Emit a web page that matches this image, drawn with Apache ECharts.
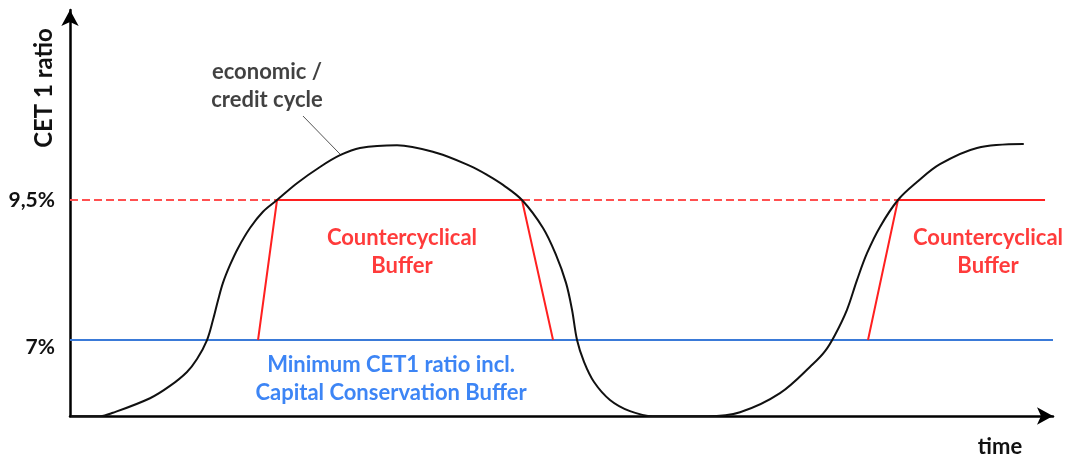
<!DOCTYPE html>
<html>
<head>
<meta charset="utf-8">
<script src="https://cdn.jsdelivr.net/npm/echarts@6/dist/echarts.min.js"></script>
<style>
html,body{margin:0;padding:0;background:#fff;}
#chart{width:1072px;height:457px;}
</style>
</head>
<body>
<div id="chart"></div>
<script>
// ---- data ----
const yTickValues = [7, 9.5];
const yTickLabels = ['7%', '9,5%'];
const cycleTime = [0.20, 3.05, 4.37, 8.14, 10.17, 11.90, 12.92, 13.94, 14.55, 15.06, 15.56, 16.28, 17.09, 18.31, 19.63, 21.06, 23.09, 25.43, 27.47, 29.50, 33.27, 37.33, 40.69, 42.42, 44.05, 45.98, 48.12, 49.44, 50.46, 51.07, 51.58, 52.29, 53.31, 54.93, 56.97, 59.31, 64.80, 68.16, 72.23, 75.58, 76.81, 77.82, 79.04, 80.06, 81.08, 82.40, 84.23, 86.16, 88.50, 92.27, 96.95];
const cycleRatio = [5.64, 5.64, 5.70, 5.96, 6.18, 6.43, 6.66, 7.00, 7.36, 7.71, 8.02, 8.34, 8.64, 9.00, 9.29, 9.50, 9.80, 10.09, 10.30, 10.43, 10.48, 10.34, 10.11, 9.95, 9.77, 9.50, 9.00, 8.52, 8.02, 7.54, 7.00, 6.61, 6.25, 5.93, 5.73, 5.64, 5.64, 5.71, 6.05, 6.57, 6.80, 7.09, 7.54, 8.07, 8.55, 9.02, 9.50, 9.82, 10.14, 10.43, 10.50];
const buffer1Time = [19.13, 21.06, 45.98, 49.14];
const buffer1Ratio = [7, 9.5, 9.5, 7];
const buffer2Time = [81.18, 84.23, 99.19];
const buffer2Ratio = [7, 9.5, 9.5];
const dashedTime = [0, 21.06, null, 45.98, 84.23];
const dashedRatio = [9.5, 9.5, null, 9.5, 9.5];
const minTime = [0, 100];
const minRatio = [7, 7];
const pointerTime = [23.70, 27.47];
const pointerRatio = [11.0, 10.32];
const notes = [
  {text: 'economic /\ncredit cycle', t: 20.04, v: 11.54, color: '#111111'},
  {text: 'Countercyclical\nBuffer', t: 33.77, v: 8.57, color: '#ff0a0a'},
  {text: 'Countercyclical\nBuffer', t: 93.39, v: 8.57, color: '#ff0a0a'},
  {text: 'Minimum CET1 ratio incl.\nCapital Conservation Buffer', t: 32.66, v: 6.30, color: '#0d66f2'}
];

const zip = (a, b) => a.map((x, i) => (x === null ? [null, null] : [x, b[i]]));
const FONT = 'Lato';

const chart = echarts.init(document.getElementById('chart'), null, {renderer: 'canvas'});
chart.setOption({
  animation: false,
  backgroundColor: '#fff',
  grid: {left: 70, right: 19, top: 10, bottom: 41, containLabel: false},
  xAxis: {
    type: 'value', min: 0, max: 100,
    axisLine: {show: true, onZero: false, lineStyle: {color: '#000', width: 2.5}, symbol: ['none', 'arrow'], symbolSize: [13, 16]},
    axisTick: {show: false}, axisLabel: {show: false}, splitLine: {show: false}
  },
  yAxis: {
    type: 'value', min: 5.643, max: 12.893,
    axisLine: {show: true, onZero: false, lineStyle: {color: '#000', width: 2.5}, symbol: ['none', 'arrow'], symbolSize: [13, 16]},
    axisTick: {show: false}, splitLine: {show: false},
    axisLabel: {
      show: true, customValues: yTickValues, margin: 15,
      fontFamily: FONT, fontWeight: 'bold', fontSize: 21, color: '#111',
      formatter: v => {
        const i = yTickValues.indexOf(v);
        return i === 0 ? '{low|' + yTickLabels[i] + '}' : yTickLabels[i];
      },
      rich: {low: {fontFamily: FONT, fontWeight: 'bold', fontSize: 21, color: '#111', padding: [14, 0, 0, 0]}}
    }
  },
  graphic: [
    {type: 'text', x: 44, y: 88, rotation: Math.PI / 2,
      style: {text: 'CET 1 ratio', fontFamily: FONT, fontWeight: 'bold', fontSize: 24, fill: '#111', align: 'center', verticalAlign: 'middle'}},
    {type: 'text', x: 1000, y: 447,
      style: {text: 'time', fontFamily: FONT, fontWeight: 'bold', fontSize: 22, fill: '#111', align: 'center', verticalAlign: 'middle'}}
  ],
  series: [
    {type: 'line', name: 'min', data: zip(minTime, minRatio), symbol: 'none', lineStyle: {color: '#3a7ad8', width: 2}, z: 2},
    {type: 'line', name: 'dashed', data: zip(dashedTime, dashedRatio), symbol: 'none', connectNulls: false, lineStyle: {color: '#ff5050', width: 2, type: [8, 4]}, z: 2},
    {type: 'line', name: 'buf1', data: zip(buffer1Time, buffer1Ratio), symbol: 'none', lineStyle: {color: '#ff2020', width: 2}, z: 3},
    {type: 'line', name: 'buf2', data: zip(buffer2Time, buffer2Ratio), symbol: 'none', lineStyle: {color: '#ff2020', width: 2}, z: 3},
    {type: 'line', name: 'cycle', data: zip(cycleTime, cycleRatio), symbol: 'none', smooth: 0.35, lineStyle: {color: '#111', width: 2, join: 'round', cap: 'round'}, z: 4},
    {type: 'line', name: 'pointer', data: zip(pointerTime, pointerRatio), symbol: 'none', lineStyle: {color: '#555', width: 1}, z: 4},
    {type: 'scatter', name: 'notes', symbolSize: 0, silent: true, z: 5,
      data: notes.map(n => ({value: [n.t, n.v], label: {show: true, position: 'inside', formatter: n.text, color: n.color, fontFamily: FONT, fontWeight: 'bold', fontSize: 22, lineHeight: 28, align: 'center', verticalAlign: 'middle'}}))}
  ]
});
</script>
</body>
</html>
